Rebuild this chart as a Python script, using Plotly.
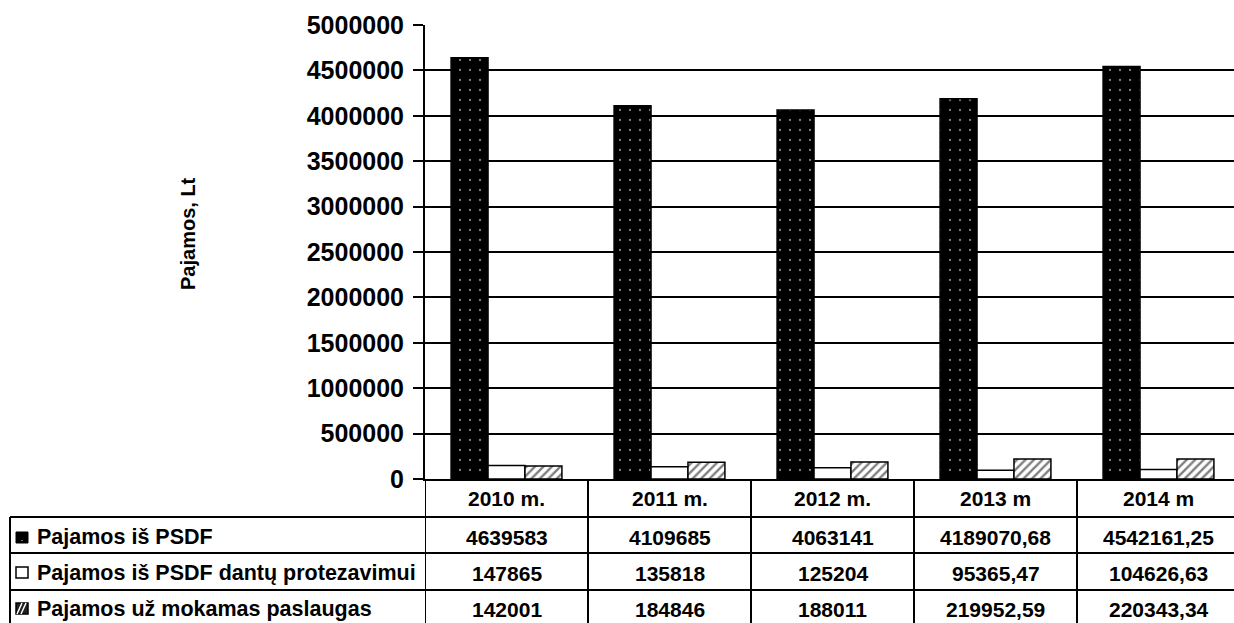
import plotly.graph_objects as go

categories = ["2010 m.", "2011 m.", "2012 m.", "2013 m", "2014 m"]
series_names = ["Pajamos iš PSDF", "Pajamos iš PSDF dantų protezavimui", "Pajamos už mokamas paslaugas"]
psdf = [4639583, 4109685, 4063141, 4189070.68, 4542161.25]
protez = [147865, 135818, 125204, 95365.47, 104626.63]
mokamos = [142001, 184846, 188011, 219952.59, 220343.34]
table_text = [
    ["4639583", "4109685", "4063141", "4189070,68", "4542161,25"],
    ["147865", "135818", "125204", "95365,47", "104626,63"],
    ["142001", "184846", "188011", "219952,59", "220343,34"],
]
y_title = "Pajamos, Lt"

W, H = 1234, 623
L, R, T, B = 425, 1234, 25, 479   # plot area pixels
PW, PH = R - L, B - T
CAT_W = 163.0
xmax = -0.5 + PW / CAT_W

def px(xp):
    return (xp - L) / PW

def py(yp):
    return (B - yp) / PH

FONT = "Liberation Sans, Arial, sans-serif"

fig = go.Figure()
styles = [
    dict(color="black", pattern=dict(shape=".", fgcolor="white", bgcolor="black", size=10, solidity=0.04)),
    dict(color="white", pattern=dict(shape="")),
    dict(color="white", pattern=dict(shape="/", fgcolor="black", bgcolor="white", size=6, solidity=0.4)),
]
for name, vals, st in zip(series_names, [psdf, protez, mokamos], styles):
    fig.add_trace(go.Bar(
        x=categories, y=vals, name=name,
        marker=dict(color=st["color"], pattern=st["pattern"], line=dict(color="black", width=1.5)),
        showlegend=False,
    ))

shapes = []
ann = []
line = dict(color="black", width=2)
for yp in [517, 553, 590]:
    shapes.append(dict(type="line", xref="paper", yref="paper", x0=px(10), x1=1, y0=py(yp), y1=py(yp), line=line))
shapes.append(dict(type="line", xref="paper", yref="paper", x0=px(10), x1=px(10), y0=py(517), y1=py(630), line=line))
shapes.append(dict(type="line", xref="x", yref="paper", x0=-0.5, x1=-0.5, y0=0, y1=py(630), line=line))
for i in range(len(categories) - 1):
    shapes.append(dict(type="line", xref="x", yref="paper", x0=i + 0.5, x1=i + 0.5, y0=0, y1=py(630), line=line))

# legend key icons in the table
icon_top = [532, 567, 603]
for r, top in enumerate(icon_top):
    x0, x1, y0, y1 = px(16), px(28), py(top), py(top + 11)
    if r == 0:
        shapes.append(dict(type="rect", xref="paper", yref="paper", x0=x0, x1=x1, y0=y0, y1=y1,
                           fillcolor="black", line=dict(color="black", width=1)))
        shapes.append(dict(type="rect", xref="paper", yref="paper", x0=px(21.5), x1=px(22.5),
                           y0=py(top + 8), y1=py(top + 9), fillcolor="white", line=dict(width=0)))
    elif r == 1:
        shapes.append(dict(type="rect", xref="paper", yref="paper", x0=x0, x1=x1, y0=y0, y1=y1,
                           fillcolor="white", line=dict(color="black", width=1.5)))
    else:
        shapes.append(dict(type="rect", xref="paper", yref="paper", x0=x0, x1=x1, y0=y0, y1=y1,
                           fillcolor="#222", line=dict(color="black", width=1.5)))
        for d in (3, 7):
            shapes.append(dict(type="line", xref="paper", yref="paper",
                               x0=px(16 + d - 2), x1=px(16 + d + 3), y0=py(top + 11), y1=py(top),
                               line=dict(color="white", width=1.5)))

tfont = dict(family=FONT, size=21, color="black", weight="bold")
lfont = dict(family=FONT, size=21.5, color="black", weight="bold")
for i, c in enumerate(categories):
    ann.append(dict(x=i, y=py(498), xref="x", yref="paper", text=c, showarrow=False, font=tfont,
                    xanchor="center", yanchor="middle"))
row_y = [537, 573, 609]
for r in range(3):
    for i in range(len(categories)):
        ann.append(dict(x=i, y=py(row_y[r]), xref="x", yref="paper", text=table_text[r][i],
                        showarrow=False, font=tfont, xanchor="center", yanchor="middle"))
    ann.append(dict(x=px(35), y=py(row_y[r]), xref="paper", yref="paper", xanchor="left", yanchor="middle",
                    text=series_names[r], showarrow=False, font=lfont))
ann.append(dict(x=px(188), y=py(234), xref="paper", yref="paper", text=y_title, textangle=-90,
                xanchor="center", yanchor="middle",
                showarrow=False, font=dict(family=FONT, size=20, color="black", weight="bold")))

fig.update_layout(
    width=W, height=H,
    margin=dict(l=L, r=W - R, t=T, b=H - B, pad=0),
    paper_bgcolor="white", plot_bgcolor="white",
    barmode="group", bargap=0.32, bargroupgap=0,
    shapes=shapes, annotations=ann,
    xaxis=dict(range=[-0.5, xmax], showticklabels=False, ticks="", showgrid=False,
               showline=True, linecolor="black", linewidth=2, zeroline=False),
    yaxis=dict(range=[0, 5000000], dtick=500000, tickformat="d", showgrid=True, gridcolor="black",
               gridwidth=2, showline=True, linecolor="black", linewidth=2, ticks="outside",
               ticklen=10, tickwidth=2, tickcolor="black", zeroline=False, ticklabelstandoff=4,
               tickfont=dict(family=FONT, size=25, color="black", weight="bold")),
)
fig.write_html("out.html", post_script="document.body.style.margin='0';",
               config={"displayModeBar": False})
